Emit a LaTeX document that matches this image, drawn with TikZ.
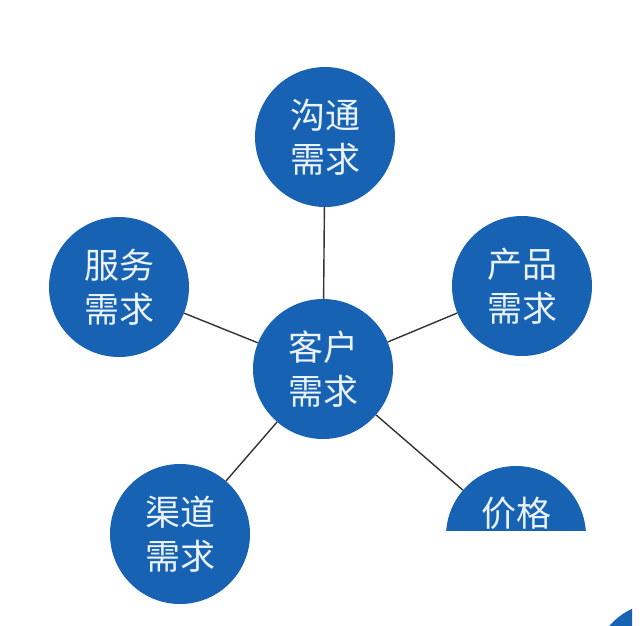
\documentclass[tikz,border=0pt]{standalone}
\usepackage{fontspec}
\newfontfamily\cjk{Noto Sans CJK SC}
\usetikzlibrary{positioning}

\definecolor{demandblue}{HTML}{1862B3}
\definecolor{demandtext}{HTML}{EAF2FB}
\definecolor{linkgray}{HTML}{333333}

\tikzset{
  demand/.style={circle, fill=demandblue, minimum size=140pt, inner sep=0pt,
    align=center, text=demandtext, font=\cjk\fontsize{35}{44}\selectfont},
  link/.style={draw=linkgray, line width=1.4pt}
}

\begin{document}
\begin{tikzpicture}[x=1.0pt, y=-1.0pt]

\useasboundingbox[fill=white] (0,0) rectangle (640,625);

\node [demand] (customer) at (323,369) {客户\\需求};

\foreach \n/\x/\y/\a in {talk/325/137/沟通, service/119/287/服务,
    product/522/286/产品, channel/180/534/渠道}
  \node [demand] (\n) at (\x,\y) {\a\\需求};

\begin{scope}
  \clip (0,0) rectangle (640,530);
  \node [demand] (price) at (516,536) {};
\end{scope}
\node [text=demandtext, font=\cjk\fontsize{35}{44}\selectfont] (price-text)
  at (516,513) {价格};

\foreach \n in {talk,service,product,channel,price}
  \draw [link] (customer) -- (\n);

% corner piece
\begin{scope}
  \clip (600,605) rectangle (632,626);
  \node [demand] (corner) at (662,672) {};
\end{scope}

\end{tikzpicture}
\end{document}
